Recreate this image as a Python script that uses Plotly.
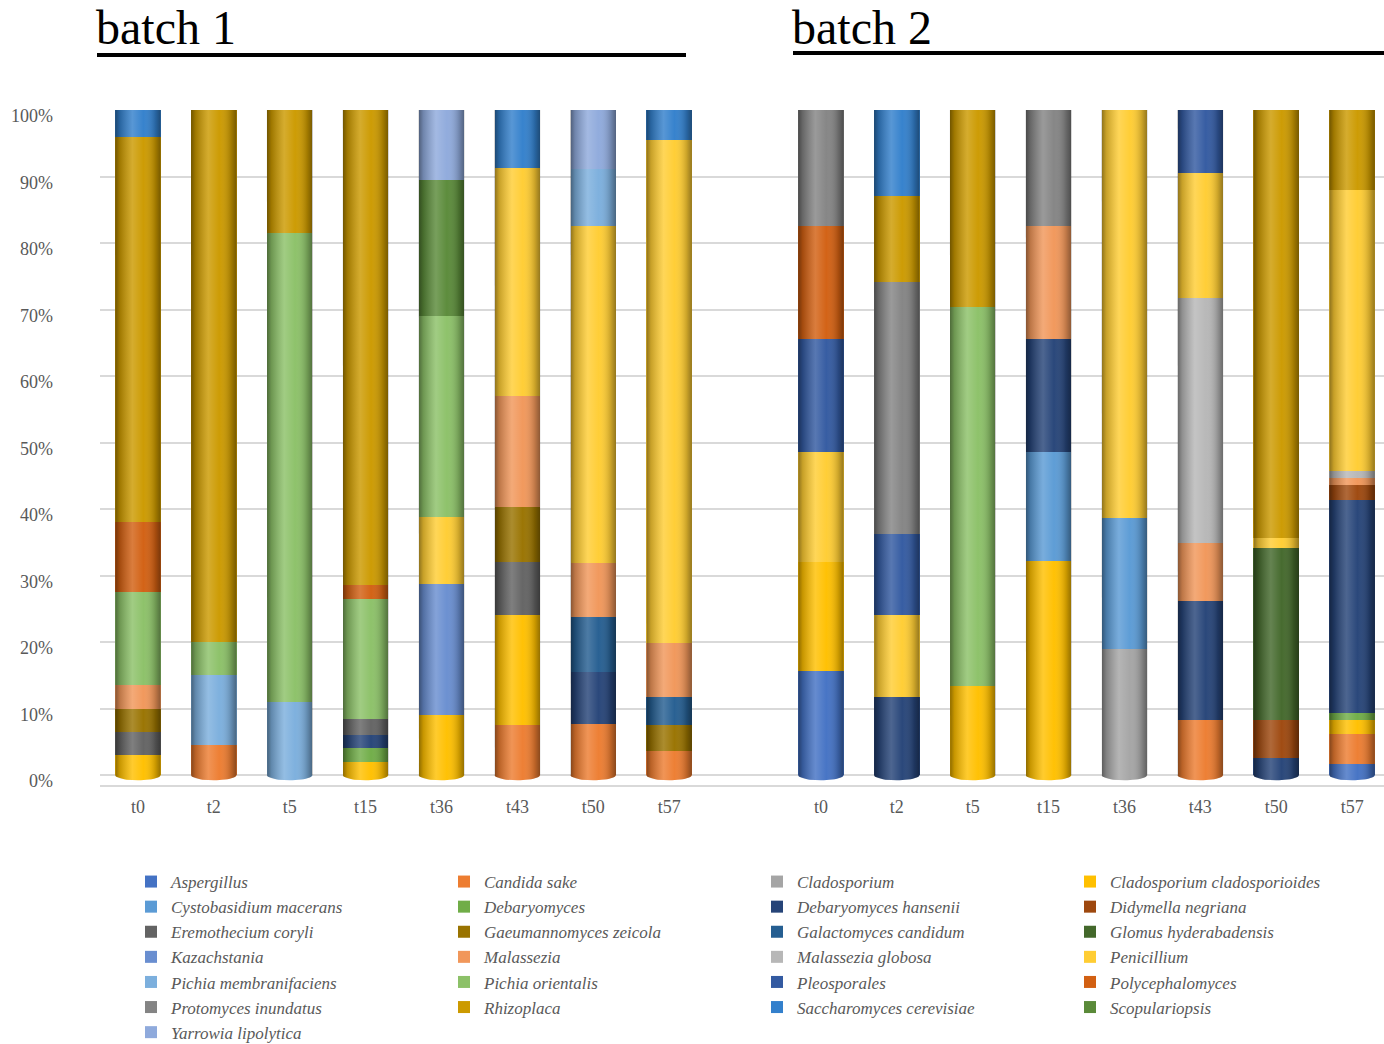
import math
import plotly.graph_objects as go

# Sampling time points (same schedule for both batches)
timepoints = ["t0", "t2", "t5", "t15", "t36", "t43", "t50", "t57"]

# Taxa in stacking order (bottom to top) with their fill colours
species = [
    "Aspergillus", "Candida sake", "Cladosporium", "Cladosporium cladosporioides",
    "Cystobasidium macerans", "Debaryomyces", "Debaryomyces hansenii", "Didymella negriana",
    "Eremothecium coryli", "Gaeumannomyces zeicola", "Galactomyces candidum",
    "Glomus hyderabadensis", "Kazachstania", "Malassezia", "Malassezia globosa",
    "Penicillium", "Pichia membranifaciens", "Pichia orientalis", "Pleosporales",
    "Polycephalomyces", "Protomyces inundatus", "Rhizoplaca", "Saccharomyces cerevisiae",
    "Scopulariopsis", "Yarrowia lipolytica",
]
colors = [
    "#4472C4", "#ED7D31", "#A5A5A5", "#FFC000",
    "#5B9BD5", "#70AD47", "#264478", "#9E480E",
    "#636363", "#997300", "#255E91",
    "#43682B", "#698ED0", "#F1975A", "#B7B7B7",
    "#FFCD33", "#7CAFDD", "#8CC168", "#335AA1",
    "#D26012", "#848484", "#CC9A00", "#3380CC",
    "#5A8A39", "#8FAADC",
]

# Relative abundance (%) per time point, batch 1
batch1 = {
    "Candida sake":                 [0, 4.5, 0, 0, 0, 7.5, 7.6, 3.6],
    "Cladosporium cladosporioides": [3.0, 0, 0, 2.0, 9.0, 16.5, 0, 0],
    "Debaryomyces":                 [0, 0, 0, 2.0, 0, 0, 0, 0],
    "Debaryomyces hansenii":        [0, 0, 0, 2.0, 0, 0, 7.9, 0],
    "Eremothecium coryli":          [3.5, 0, 0, 2.5, 0, 8.0, 0, 0],
    "Gaeumannomyces zeicola":       [3.5, 0, 0, 0, 0, 8.3, 0, 3.9],
    "Galactomyces candidum":        [0, 0, 0, 0, 0, 0, 8.2, 4.3],
    "Kazachstania":                 [0, 0, 0, 0, 19.8, 0, 0, 0],
    "Malassezia":                   [3.5, 0, 0, 0, 0, 16.7, 8.2, 8.0],
    "Penicillium":                  [0, 0, 0, 0, 10.0, 34.3, 50.7, 75.7],
    "Pichia membranifaciens":       [0, 10.5, 11.0, 0, 0, 0, 8.6, 0],
    "Pichia orientalis":            [14.0, 5.0, 70.5, 18.0, 30.2, 0, 0, 0],
    "Polycephalomyces":             [10.5, 0, 0, 2.0, 0, 0, 0, 0],
    "Rhizoplaca":                   [58.0, 80.0, 18.5, 71.5, 0, 0, 0, 0],
    "Saccharomyces cerevisiae":     [4.0, 0, 0, 0, 0, 8.7, 0, 4.5],
    "Scopulariopsis":               [0, 0, 0, 0, 20.5, 0, 0, 0],
    "Yarrowia lipolytica":          [0, 0, 0, 0, 10.5, 0, 8.8, 0],
}

# Relative abundance (%) per time point, batch 2
batch2 = {
    "Aspergillus":                  [15.7, 0, 0, 0, 0, 0, 0, 1.7],
    "Candida sake":                 [0, 0, 0, 0, 0, 8.2, 0, 4.4],
    "Cladosporium":                 [0, 0, 0, 0, 19.0, 0, 0, 0],
    "Cladosporium cladosporioides": [16.4, 0, 13.4, 32.2, 0, 0, 0, 2.1],
    "Cystobasidium macerans":       [0, 0, 0, 16.4, 19.6, 0, 0, 0],
    "Debaryomyces":                 [0, 0, 0, 0, 0, 0, 0, 1.2],
    "Debaryomyces hansenii":        [0, 11.8, 0, 16.9, 0, 18.0, 2.5, 32.0],
    "Didymella negriana":           [0, 0, 0, 0, 0, 0, 5.8, 2.2],
    "Glomus hyderabadensis":        [0, 0, 0, 0, 0, 0, 25.9, 0],
    "Malassezia":                   [0, 0, 0, 17.0, 0, 8.7, 0, 1.1],
    "Malassezia globosa":           [0, 0, 0, 0, 0, 36.8, 0, 1.0],
    "Penicillium":                  [16.5, 12.2, 0, 0, 61.4, 18.8, 1.5, 42.2],
    "Pichia orientalis":            [0, 0, 57.0, 0, 0, 0, 0, 0],
    "Pleosporales":                 [16.9, 12.2, 0, 0, 0, 9.5, 0, 0],
    "Polycephalomyces":             [17.0, 0, 0, 0, 0, 0, 0, 0],
    "Protomyces inundatus":         [17.5, 37.9, 0, 17.5, 0, 0, 0, 0],
    "Rhizoplaca":                   [0, 12.9, 29.6, 0, 0, 0, 64.3, 12.1],
    "Saccharomyces cerevisiae":     [0, 13.0, 0, 0, 0, 0, 0, 0],
}

# ---- layout geometry (pixels) ----
W, H = 1384, 1044
M_L, M_R, M_T, M_B = 100, 0, 110, 259
PW, PH = W - M_L - M_R, H - M_T - M_B
Y_MIN = -1.5
FONT = "Liberation Serif, Times New Roman, serif"
GREY = "#595959"

def px_x(p):
    return (p - M_L) / PW

def px_y(p):
    return (H - M_B - p) / PH

# batch 1 occupies slots 0..7, one empty slot, batch 2 occupies 9..16
n = len(timepoints)
pos1 = list(range(n))
pos2 = [n + 1 + i for i in range(n)]
xpos = pos1 + pos2
BAR_W = 0.6
SLOTS = 16.92          # visible slot count across the plot width
CAP = 0.8              # depth of the rounded column foot, in axis units

fig = go.Figure()
for name, col in zip(species, colors):
    v1 = batch1.get(name, [0] * n)
    v2 = batch2.get(name, [0] * n)
    fig.add_trace(go.Bar(
        x=xpos, y=v1 + v2, name=name, width=BAR_W,
        marker=dict(color=col, line=dict(width=0)),
        hovertemplate="%{fullData.name}: %{y:.1f}%<extra></extra>",
    ))

# per-column totals and the colour of the lowest segment
columns = []
for table in (batch1, batch2):
    for i in range(n):
        vals = [(s, c, table.get(s, [0] * n)[i]) for s, c in zip(species, colors)]
        total = sum(v for _, _, v in vals)
        base_col = next(c for _, c, v in vals if v > 0)
        columns.append((total, base_col))

# rounded foot of each cylinder, filled with the bottom segment's colour
arc = [math.pi * k / 24 for k in range(25)]
for xc, (tot, base_col) in zip(xpos, columns):
    ex = [xc + BAR_W / 2 * math.cos(t) for t in arc]
    ey = [-CAP * math.sin(t) for t in arc]
    fig.add_trace(go.Scatter(
        x=ex + [ex[0]], y=ey + [ey[0]], mode="lines", line=dict(width=0),
        fill="toself", fillcolor=base_col, showlegend=False, hoverinfo="skip",
    ))

# cylinder shading laid over each stacked column (including its foot)
shade = [
    [0.0, "rgba(0,0,0,0.45)"],
    [0.10, "rgba(0,0,0,0.22)"],
    [0.38, "rgba(255,255,255,0.18)"],
    [0.62, "rgba(255,255,255,0.02)"],
    [0.88, "rgba(0,0,0,0.20)"],
    [1.0, "rgba(0,0,0,0.42)"],
]
for xc, (tot, _) in zip(xpos, columns):
    x0, x1 = xc - BAR_W / 2, xc + BAR_W / 2
    foot_x = [xc - BAR_W / 2 * math.cos(t) for t in arc]
    foot_y = [-CAP * math.sin(t) for t in arc]
    fig.add_trace(go.Scatter(
        x=[x0] + foot_x + [x1, x0], y=[tot] + foot_y + [tot, tot],
        mode="lines", line=dict(width=0), fill="toself",
        fillgradient=dict(type="horizontal", colorscale=shade),
        showlegend=False, hoverinfo="skip",
    ))

fig.update_layout(
    width=W, height=H, autosize=False,
    margin=dict(l=M_L, r=M_R, t=M_T, b=M_B, autoexpand=False),
    barmode="stack",
    plot_bgcolor="white", paper_bgcolor="white",
    font=dict(family=FONT, color=GREY, size=18),
    hovermode="closest",
    legend=dict(
        orientation="h", traceorder="normal",
        entrywidth=268, entrywidthmode="pixels",
        x=px_x(131), xanchor="left",
        y=px_y(864), yanchor="top",
        font=dict(family=FONT, size=17, color=GREY, style="italic"),
        bgcolor="rgba(0,0,0,0)",
    ),
)

fig.update_xaxes(
    range=[-0.5, SLOTS - 0.5],
    tickmode="array", tickvals=xpos, ticktext=timepoints + timepoints,
    showgrid=False, zeroline=False,
    showline=True, linecolor="#D9D9D9", linewidth=1.5,
    ticks="outside", ticklen=5, tickcolor="rgba(0,0,0,0)",
    tickfont=dict(family=FONT, size=18, color=GREY),
)
fig.update_yaxes(
    range=[Y_MIN, 100], tickvals=list(range(0, 101, 10)),
    ticktext=[f"{v}%" for v in range(0, 101, 10)],
    showgrid=True, gridcolor="#D9D9D9", gridwidth=1.5, zeroline=False,
    showline=False, ticks="", ticklabelstandoff=46, ticklabelshift=6,
    tickfont=dict(family=FONT, size=18, color=GREY),
)

# batch headings with underline rules
for label, x_left, x_right, y_rule in [("batch 1", 95, 686, 55), ("batch 2", 791, 1384, 53)]:
    fig.add_annotation(
        text=label, xref="paper", yref="paper",
        x=px_x(x_left), y=px_y(28), xanchor="left", yanchor="middle",
        borderpad=0, showarrow=False, font=dict(family=FONT, size=48, color="black"),
    )
    fig.add_shape(
        type="line", xref="paper", yref="paper",
        x0=px_x(x_left + 2), x1=px_x(x_right), y0=px_y(y_rule), y1=px_y(y_rule),
        line=dict(color="black", width=4),
    )

fig.write_html("out.html")
